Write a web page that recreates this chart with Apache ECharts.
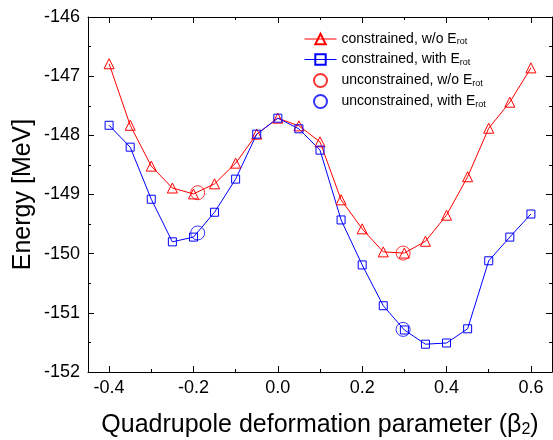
<!DOCTYPE html>
<html>
<head>
<meta charset="utf-8">
<script src="https://cdn.jsdelivr.net/npm/echarts@6/dist/echarts.min.js"></script>
<style>html,body{margin:0;padding:0;background:#fff}#c{width:553px;height:440px}</style>
</head>
<body>
<div id="c"></div>
<script>
const betaValues = [-0.4,-0.35,-0.3,-0.25,-0.2,-0.15,-0.1,-0.05,0.0,0.05,0.1,0.15,0.2,0.25,0.3,0.35,0.4,0.45,0.5,0.55,0.6];
const constrainedNoRot = [-146.79,-147.83,-148.52,-148.89,-148.99,-148.82,-148.47,-147.98,-147.71,-147.84,-148.11,-149.09,-149.58,-149.97,-149.99,-149.79,-149.35,-148.70,-147.88,-147.44,-146.86];
const constrainedWithRot = [-147.83,-148.20,-149.08,-149.80,-149.72,-149.30,-148.74,-147.98,-147.71,-147.89,-148.25,-149.43,-150.19,-150.88,-151.29,-151.53,-151.51,-151.27,-150.12,-149.72,-149.33];
const unconstrainedBeta = [-0.19, 0.297];
const unconstrainedNoRot = [-148.97, -149.99];
const unconstrainedWithRot = [-149.65, -151.28];
const xMajorTicks = [-0.4,-0.2,0.0,0.2,0.4,0.6];
const xMinorTicks = [-0.3,-0.1,0.1,0.3,0.5];
const seriesNames = ['constrained, w/o E{sub|rot}','constrained, with E{sub|rot}','unconstrained, w/o E{sub|rot}','unconstrained, with E{sub|rot}'];

const zip = (xs, ys) => xs.map((x, i) => [x, ys[i]]);
const FONT = 'Liberation Sans';
const AX = '#000';

const chart = echarts.init(document.getElementById('c'), null, {renderer: 'canvas'});
const baseX = {type: 'value', min: -0.45, max: 0.65, splitLine: {show: false}};
const baseY = {type: 'value', min: -152, max: -146, interval: 1, splitLine: {show: false}};

chart.setOption({
  animation: false,
  backgroundColor: '#fff',
  grid: {left: 88, right: 1, top: 17, bottom: 68, containLabel: false, outerBoundsMode: 'none'},
  legend: {
    orient: 'vertical', left: 299, top: 27, itemWidth: 32, itemHeight: 13, itemGap: 6,
    data: seriesNames,
    lineStyle: {width: 1},
    textStyle: {fontFamily: FONT, fontSize: 14, color: '#000', lineHeight: 14,
      rich: {sub: {fontFamily: FONT, fontSize: 9, color: '#000', padding: [6, 0, 0, 0]}}}
  },
  xAxis: [
    Object.assign({}, baseX, {position: 'bottom',
      name: 'Quadrupole deformation parameter (β{sub|2})', nameLocation: 'middle', nameGap: 40,
      nameMoveOverlap: false,
      nameTextStyle: {fontFamily: FONT, fontSize: 25, color: '#000',
        rich: {sub: {fontFamily: FONT, fontSize: 16, color: '#000', padding: [10, 0, 0, 0]}}},
      axisLine: {show: true, onZero: false, lineStyle: {color: AX, width: 1}},
      axisTick: {show: true, inside: true, length: 6, customValues: xMajorTicks, lineStyle: {color: AX}},
      axisLabel: {customValues: xMajorTicks, margin: 7, fontFamily: FONT, fontSize: 18, color: '#000',
        formatter: v => v.toFixed(1)}}),
    Object.assign({}, baseX, {position: 'bottom',
      axisLine: {show: false, onZero: false},
      axisTick: {show: true, inside: true, length: 3, customValues: xMinorTicks, lineStyle: {color: AX}},
      axisLabel: {show: false}}),
    Object.assign({}, baseX, {position: 'top',
      axisLine: {show: true, onZero: false, lineStyle: {color: AX, width: 1}},
      axisTick: {show: true, inside: true, length: 6, customValues: xMajorTicks, lineStyle: {color: AX}},
      axisLabel: {show: false}}),
    Object.assign({}, baseX, {position: 'top',
      axisLine: {show: false, onZero: false},
      axisTick: {show: true, inside: true, length: 3, customValues: xMinorTicks, lineStyle: {color: AX}},
      axisLabel: {show: false}})
  ],
  yAxis: [
    Object.assign({}, baseY, {position: 'left',
      name: 'Energy [MeV]', nameLocation: 'middle', nameGap: 52,
      nameMoveOverlap: false,
      nameTextStyle: {fontFamily: FONT, fontSize: 25, color: '#000'},
      axisLine: {show: true, onZero: false, lineStyle: {color: AX, width: 1}},
      axisTick: {show: true, inside: true, length: 6, lineStyle: {color: AX}},
      minorTick: {show: true, splitNumber: 2, length: 3, lineStyle: {color: AX}},
      axisLabel: {margin: 8, fontFamily: FONT, fontSize: 18, color: '#000'}}),
    Object.assign({}, baseY, {position: 'right',
      axisLine: {show: true, onZero: false, lineStyle: {color: AX, width: 1}},
      axisTick: {show: true, inside: true, length: 6, lineStyle: {color: AX}},
      minorTick: {show: true, splitNumber: 2, length: 3, lineStyle: {color: AX}},
      axisLabel: {show: false}})
  ],
  series: [
    {name: seriesNames[0], type: 'line', data: zip(betaValues, constrainedNoRot),
      symbol: 'triangle', symbolSize: 10, showAllSymbol: true,
      lineStyle: {color: '#ff0000', width: 1},
      itemStyle: {color: 'rgba(255,255,255,0)', borderColor: '#ff0000', borderWidth: 1}},
    {name: seriesNames[1], type: 'line', data: zip(betaValues, constrainedWithRot),
      symbol: 'rect', symbolSize: 8, showAllSymbol: true,
      lineStyle: {color: '#0000ff', width: 1},
      itemStyle: {color: 'rgba(255,255,255,0)', borderColor: '#0000ff', borderWidth: 1}},
    {name: seriesNames[2], type: 'scatter', data: zip(unconstrainedBeta, unconstrainedNoRot),
      symbol: 'circle', symbolSize: 14, z: 5,
      itemStyle: {color: 'rgba(255,255,255,0)', borderColor: '#ff0000', borderWidth: 1}},
    {name: seriesNames[3], type: 'scatter', data: zip(unconstrainedBeta, unconstrainedWithRot),
      symbol: 'circle', symbolSize: 14, z: 5,
      itemStyle: {color: 'rgba(255,255,255,0)', borderColor: '#0000ff', borderWidth: 1}}
  ]
});
</script>
</body>
</html>
